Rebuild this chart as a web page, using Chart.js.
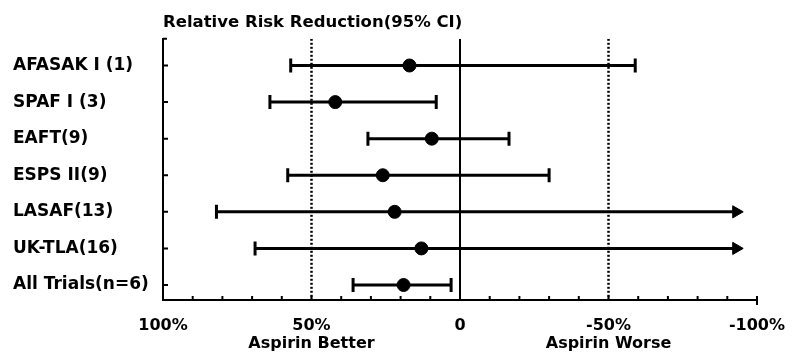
<!DOCTYPE html>
<html>
<head>
<meta charset="utf-8">
<script src="https://cdn.jsdelivr.net/npm/chart.js@4/dist/chart.umd.min.js"></script>
<style>
  body { margin: 0; background: #fff; }
</style>
</head>
<body>
<canvas id="chart" width="795" height="358"></canvas>
<script>
// trials, top to bottom
const studies = ["AFASAK I (1)", "SPAF I (3)", "EAFT(9)", "ESPS II(9)", "LASAF(13)", "UK-TLA(16)", "All Trials(n=6)"];
// relative risk reduction in %, positive = aspirin better
const rrr = [17, 42, 9.5, 26, 22, 13, 19];
const lowerCI = [57, 64, 31, 58, 82, 69, 36];
const upperCI = [-59, 8, -16.5, -30, -93, -93, 3];
// CI runs off the scale -> drawn as an arrow
const openEnded = [false, false, false, false, true, true, false];
const refLines = [50, 0, -50];
const xTicks = [100, 50, 0, -50, -100];
const xSubLabels = { "50": "Aspirin Better", "-50": "Aspirin Worse" };

const FONT = "'DejaVu Sans'";
const yTop = -0.73, yBottom = 6.41;

var datasets = [];

// the dots
datasets.push({
  data: rrr.map((v, i) => ({ x: v, y: i })),
  backgroundColor: "#000",
  borderColor: "#000",
  pointRadius: 6.5,
  pointHoverRadius: 6.5,
  order: 0,
});

// CI bars
studies.forEach((s, i) => {
  datasets.push({
    data: [{ x: lowerCI[i], y: i }, { x: upperCI[i], y: i }],
    showLine: true,
    borderColor: "#000",
    backgroundColor: "#000",
    borderWidth: 3,
    pointBorderWidth: [3, openEnded[i] ? 1 : 3],
    pointStyle: ["line", openEnded[i] ? "triangle" : "line"],
    pointRotation: 90,
    pointRadius: 7,
    pointHoverRadius: 7,
    order: 1,
  });
});

// zero line and the two dotted 50% lines
refLines.forEach((v) => {
  datasets.push({
    data: [{ x: v, y: yTop }, { x: v, y: yBottom }],
    showLine: true,
    borderColor: "#000",
    borderWidth: v === 0 ? 2 : 2.5,
    borderDash: v === 0 ? [] : [2, 2],
    pointRadius: 0,
    order: 2,
  });
});

// small tick marks pointing into the plot
const innerTicks = {
  id: "innerTicks",
  afterDraw(chart) {
    var ctx = chart.ctx;
    var xs = chart.scales.x, ys = chart.scales.y;
    ctx.save();
    ctx.strokeStyle = "#000";
    ctx.lineWidth = 2;
    ctx.beginPath();
    xs.ticks.forEach((t) => {
      var px = xs.getPixelForValue(t.value);
      ctx.moveTo(px, xs.top);
      ctx.lineTo(px, xs.top - 4);
    });
    ys.ticks.forEach((t) => {
      var py = ys.getPixelForValue(t.value);
      ctx.moveTo(ys.right, py);
      ctx.lineTo(ys.right + 5, py);
    });
    // little hooks at the axis ends
    ctx.moveTo(ys.right, ys.top);
    ctx.lineTo(ys.right + 4, ys.top);
    ctx.moveTo(xs.right, xs.top);
    ctx.lineTo(xs.right, xs.top + 5);
    ctx.stroke();
    ctx.restore();
  },
};

var mychart = document.getElementById("chart").getContext("2d");
var chart = new Chart(mychart, {
  type: "scatter",
  data: { datasets: datasets },
  plugins: [innerTicks],
  options: {
    responsive: false,
    animation: false,
    layout: { padding: { left: 13, right: 38, top: 0, bottom: 0 } },
    plugins: {
      legend: { display: false },
      tooltip: { enabled: false },
      title: {
        display: true,
        fullSize: false,
        text: "Relative Risk Reduction(95% CI)",
        align: "start",
        color: "#000",
        padding: { top: 13, bottom: 6 },
        font: { family: FONT, size: 16.5, weight: "bold", lineHeight: 1.2 },
      },
    },
    scales: {
      x: {
        type: "linear",
        position: "bottom",
        min: -100,
        max: 100,
        reverse: true,
        ticks: {
          stepSize: 10,
          autoSkip: false,
          maxRotation: 0,
          padding: 17,
          color: "#000",
          font: { family: FONT, size: 16, weight: "bold", lineHeight: 1.1 },
          callback: function (value) {
            if (!xTicks.includes(value)) return "";
            var txt = value === 0 ? "0" : value + "%";
            if (xSubLabels[value]) return [txt, xSubLabels[value]];
            return txt;
          },
        },
        grid: { drawOnChartArea: false, drawTicks: false },
        border: { display: true, color: "#000", width: 2 },
        afterFit: function (scale) {
          scale.height = 58;
          scale.paddingLeft = 0;
          scale.paddingRight = 0;
        },
      },
      y: {
        type: "linear",
        min: yTop,
        max: yBottom,
        reverse: true,
        afterBuildTicks: function (scale) {
          scale.ticks = studies.map((s, i) => ({ value: i }));
        },
        ticks: {
          crossAlign: "far",
          color: "#000",
          font: { family: FONT, size: 17, weight: "bold" },
          callback: function (value) { return studies[value]; },
        },
        grid: { drawOnChartArea: false, drawTicks: false },
        border: { display: true, color: "#000", width: 2 },
        afterFit: function (scale) { scale.width = 150; },
      },
    },
  },
});
</script>
</body>
</html>
